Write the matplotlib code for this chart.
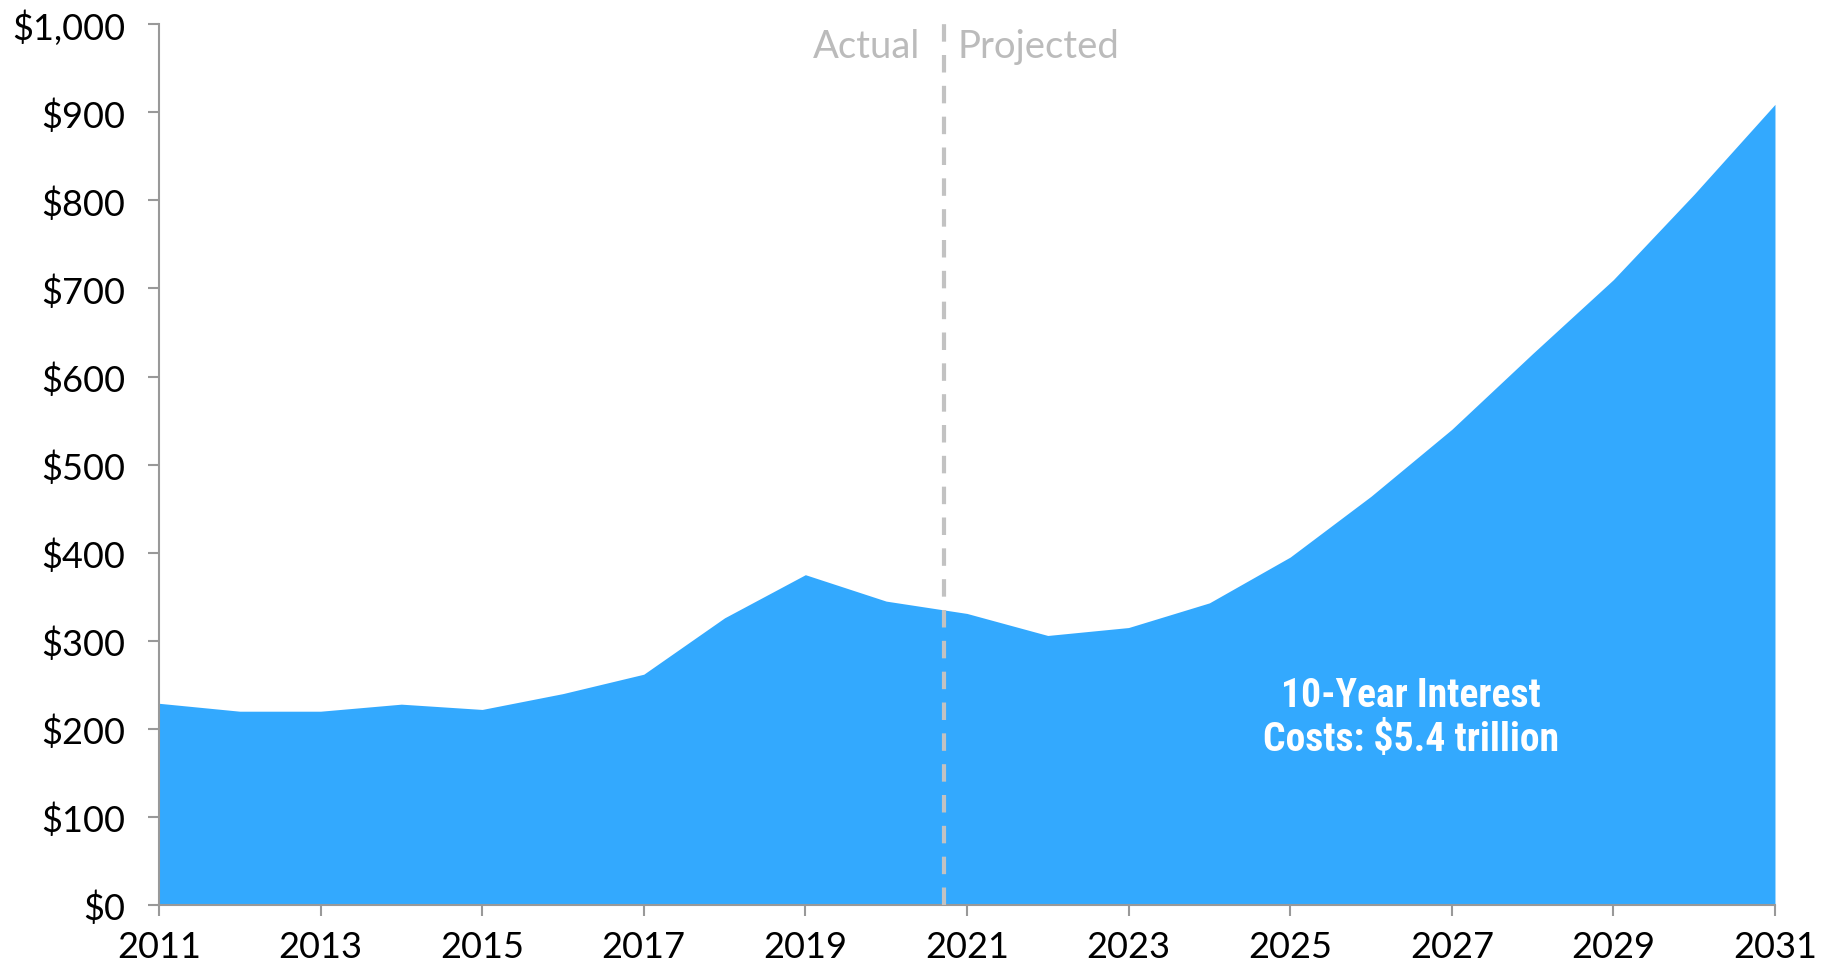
import matplotlib
matplotlib.use("Agg")
import matplotlib.pyplot as plt
from matplotlib import font_manager
from matplotlib.ticker import FuncFormatter, MultipleLocator, FixedLocator

# Net interest costs, billions of dollars
years = [2011, 2012, 2013, 2014, 2015, 2016, 2017, 2018, 2019, 2020, 2021,
         2022, 2023, 2024, 2025, 2026, 2027, 2028, 2029, 2030, 2031]
interest = [229, 220, 220, 228, 222, 240, 262, 326, 375, 345, 331,
            306, 315, 343, 395, 464, 540, 626, 710, 807, 909]
year_ticks = [2011, 2013, 2015, 2017, 2019, 2021, 2023, 2025, 2027, 2029, 2031]

split_year = 2020.71
actual_label = "Actual"
projected_label = "Projected"
note_lines = ["10-Year Interest", "Costs: $5.4 trillion"]

fill_color = "#33a9fe"
axis_color = "#999999"
divider_color = "#c2c2c2"

installed = {f.name for f in font_manager.fontManager.ttflist}
base_font = "Lato" if "Lato" in installed else "DejaVu Sans"
narrow_font = None
for cand in ["Roboto Condensed", "Liberation Sans Narrow", "DejaVu Sans Condensed"]:
    if cand in installed:
        narrow_font = cand
        break

plt.rcParams["font.family"] = [base_font, "DejaVu Sans"]

fig = plt.figure(figsize=(18.31, 9.70), dpi=100)
ax = fig.add_axes([0.0868, 0.066, 0.8826, 0.908])

ax.fill_between(years, interest, 0, color=fill_color, linewidth=0, zorder=2)

ax.set_xlim(2011, 2031)
ax.set_ylim(0, 1000)
ax.xaxis.set_major_locator(FixedLocator(year_ticks))
ax.yaxis.set_major_locator(MultipleLocator(100))
ax.yaxis.set_major_formatter(FuncFormatter(lambda v, p: f"${v:,.0f}"))
ax.xaxis.set_major_formatter(FuncFormatter(lambda v, p: f"{v:.0f}"))

for side in ["top", "right"]:
    ax.spines[side].set_visible(False)
for side in ["left", "bottom"]:
    ax.spines[side].set_color(axis_color)
    ax.spines[side].set_linewidth(1.5)
    ax.spines[side].set_zorder(3)

ax.tick_params(axis="y", length=8, width=1.5, color=axis_color, pad=16,
               labelsize=26, labelcolor="black")
ax.tick_params(axis="x", length=8, width=1.5, color=axis_color, pad=10,
               labelsize=26, labelcolor="black")

# Boundary between reported and projected years
ax.axvline(split_year, ymin=0, ymax=1.0, color=divider_color, lw=3,
           ls=(0, (4.2, 3.2)), zorder=4, clip_on=False)
ax.annotate(actual_label, xy=(split_year, 975), xytext=(-17, 0),
            textcoords="offset points", ha="right", va="center",
            fontsize=27.5, color="#bbbbbb")
ax.annotate(projected_label, xy=(split_year, 975), xytext=(10, 0),
            textcoords="offset points", ha="left", va="center",
            fontsize=27.5, color="#bbbbbb")

note_kw = dict(ha="center", va="center", color="white", fontweight="bold")
if narrow_font:
    note_kw["family"] = [narrow_font, "DejaVu Sans"]
    note_size = 28.5
else:
    note_kw["family"] = ["Roboto", "DejaVu Sans"]
    note_size = 22
ax.text(2026.5, 238, note_lines[0], fontsize=note_size, zorder=5, **note_kw)
ax.text(2026.5, 189, note_lines[1], fontsize=note_size, zorder=5, **note_kw)

fig.savefig("out.png", dpi=100, facecolor="white")
